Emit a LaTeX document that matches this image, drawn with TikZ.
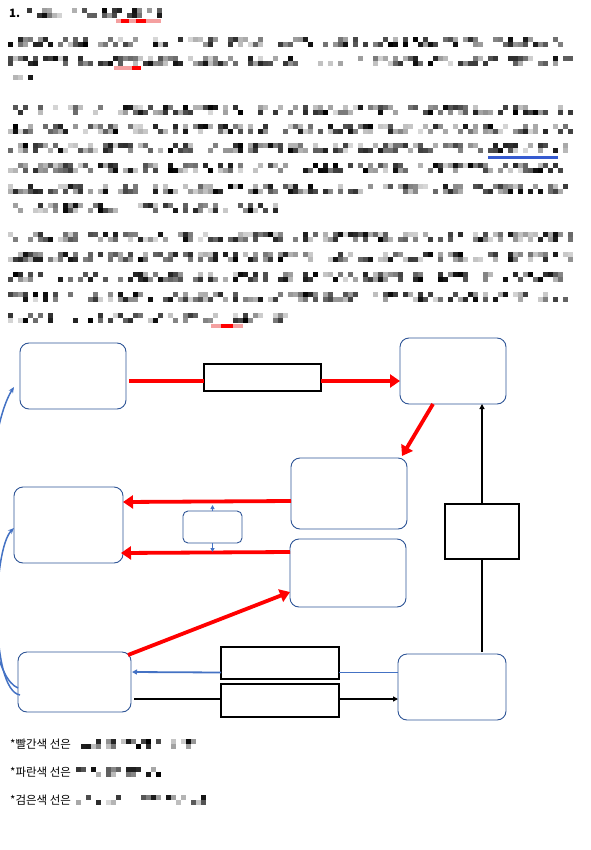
\documentclass[tikz,border=0pt]{standalone}
\usepackage{fontspec}
\newfontfamily\kr{Noto Sans CJK KR}
\usetikzlibrary{arrows.meta}
\definecolor{boxblue}{HTML}{2F5597}
\definecolor{lineblue}{HTML}{4472C4}
\definecolor{ulred}{HTML}{F4A0A0}
\newcommand\mosrow[3]{%
  \pgfmathtruncatemacro\mosn{(#3-#2)/5}%
  \foreach \mi in {0,...,\mosn}{%
    \foreach \mj in {0,1}{%
      \pgfmathsetmacro\mosg{rnd}%
      \ifdim\mosg pt<0.5pt\relax\else
        \pgfmathsetmacro\mossh{15+(\mosg-0.5)/0.5*85}%
        \fill[black!\mossh] ({#2+5*\mi},{#1-5+5*\mj}) rectangle ++(5,5);%
      \fi
    }%
  }%
}
\tikzset{
  bbox/.style={draw=boxblue, line width=0.9pt, rounded corners=9pt, fill=white, inner sep=0pt, outer sep=0pt},
  rbox/.style={draw=black, line width=1.1pt, fill=white, inner sep=0pt, outer sep=0pt},
  redline/.style={draw=red, line width=3.8pt},
  redarrow/.style={draw=red, line width=3.8pt, -{Triangle[length=10pt,width=13pt]}},
  blackline/.style={draw=black, line width=1.8pt},
  blackarrow/.style={draw=black, line width=1.8pt, -{Triangle[length=5pt,width=5pt]}},
  blueline/.style={draw=lineblue, line width=1.8pt},
  bluearrow/.style={draw=lineblue, line width=1.8pt, -{Triangle[length=5pt,width=5pt]}},
  smallblue/.style={draw=lineblue, line width=1pt, -{Triangle[length=4pt,width=4pt]}},
  curveblue/.style={draw=lineblue, line width=1.5pt, -{Stealth[length=6pt,width=5pt]}},
  legend/.style={anchor=west, inner sep=0pt, font=\kr\fontsize{11.5}{13}\selectfont}
}
\begin{document}
\begin{tikzpicture}[x=1pt,y=-1pt]
\useasboundingbox (0,0) rectangle (590,850);
\fill[white] (0,0) rectangle (590,850);
\clip (0,0) rectangle (590,850);
\pgfmathsetseed{7}
% header
\node[anchor=west, inner sep=0pt, font=\kr\bfseries\fontsize{11.5}{13}\selectfont] (h1) at (9,13) {1.};
\mosrow{13}{27}{157}
\fill[ulred] (116,19) rectangle (161,23);
\fill[red] (121,19) rectangle (129,23);
\fill[red] (136,19) rectangle (146,23);
% paragraph 1
\mosrow{42}{8}{570}
\mosrow{61}{8}{570}
\mosrow{80}{8}{32}
\fill[ulred] (114,66) rectangle (141,70);
\fill[red] (132,66) rectangle (141,70);
% paragraph 2
\mosrow{110}{8}{570}
\mosrow{129}{8}{570}
\mosrow{148}{8}{570}
\mosrow{168}{8}{570}
\mosrow{189}{8}{570}
\mosrow{208}{8}{277}
\fill[lineblue!80!blue] (488,156) rectangle (558,159);
% paragraph 3
\mosrow{237}{8}{570}
\mosrow{257}{8}{570}
\mosrow{277}{8}{570}
\mosrow{297}{8}{570}
\mosrow{318}{8}{283}
\fill[ulred] (211,324) rectangle (243,328);
\fill[red] (221,324) rectangle (233,328);
% legend
\node[legend] (l1) at (10,744) {*빨간색 선은};
\node[legend] (l2) at (10,772) {*파란색 선은};
\node[legend] (l3) at (10,800) {*검은색 선은};
\mosrow{744}{76}{193}
\mosrow{772}{76}{157}
\mosrow{800}{76}{213}
% boxes
\node[bbox, minimum width=106pt, minimum height=66pt] (A) at (73,376) {};
\node[bbox, minimum width=106pt, minimum height=66pt] (B) at (453,371) {};
\node[bbox, minimum width=116pt, minimum height=71pt] (C) at (349,493.5) {};
\node[bbox, minimum width=109pt, minimum height=76pt] (D) at (68.5,525) {};
\node[bbox, minimum width=59pt, minimum height=32pt, rounded corners=5pt] (E) at (212.5,527) {};
\node[bbox, minimum width=116pt, minimum height=68pt] (F) at (348,573) {};
\node[bbox, minimum width=113pt, minimum height=60pt] (G) at (74.5,682) {};
\node[bbox, minimum width=108pt, minimum height=66pt] (H) at (452,687) {};
\node[rbox, minimum width=117pt, minimum height=27pt] (R1) at (262.5,377.5) {};
\node[rbox, minimum width=74pt, minimum height=55pt] (R2) at (482,531.5) {};
\node[rbox, minimum width=118pt, minimum height=32pt] (R3) at (280,663) {};
\node[rbox, minimum width=118pt, minimum height=33pt] (R4) at (280,700.5) {};
% red connectors
\draw[redline] ([shift={(3pt,-5pt)}]A.east) -- ([yshift=-3.5pt]R1.west);
\draw[redarrow] ([yshift=-3.5pt]R1.east) -- ([yshift=-10pt]B.west);
\draw[redarrow] ([xshift=-20pt]B.south) -- ([shift={(-5pt,2pt)}]C.north east);
\draw[redarrow] ([yshift=-7.5pt]C.west) -- ([yshift=23pt]D.east);
\draw[redarrow] ([yshift=21pt]F.west) -- ([shift={(-2pt,-28pt)}]D.east);
\draw[redarrow] ([shift={(-3pt,-3pt)}]G.north east) -- ([yshift=-19pt]F.west);
% black connectors
\draw[blackarrow] (R2.north) -- (R2.north |- B.south);
\draw[blackline] ([yshift=2pt]H.north -| R2.south) -- (R2.south);
\draw[blackline] ([shift={(3pt,-17pt)}]G.east) -- ([yshift=1.5pt]R4.west);
\draw[blackarrow] ([yshift=1.5pt]R4.east) -- ([yshift=-12pt]H.west);
% blue connectors
\draw[blueline] ([yshift=14.5pt]H.west) -- ([yshift=-9.5pt]R3.east);
\draw[bluearrow] ([yshift=-9.5pt]R3.west) -- ([shift={(1pt,10pt)}]G.east);
\draw[smallblue] (E.north) -- ([yshift=6pt]E.north);
\draw[smallblue] (E.south) -- ([yshift=-9pt]E.south);
\draw[curveblue] ([yshift=-6pt]G.west) .. controls (-25,670) and (-20,440) .. ([shift={(-6pt,-11pt)}]A.west);
\draw[curveblue] ([shift={(2pt,-13pt)}]G.west) .. controls (-10,690) and (-8,550) .. ([yshift=-3pt]D.west);
\end{tikzpicture}
\end{document}
